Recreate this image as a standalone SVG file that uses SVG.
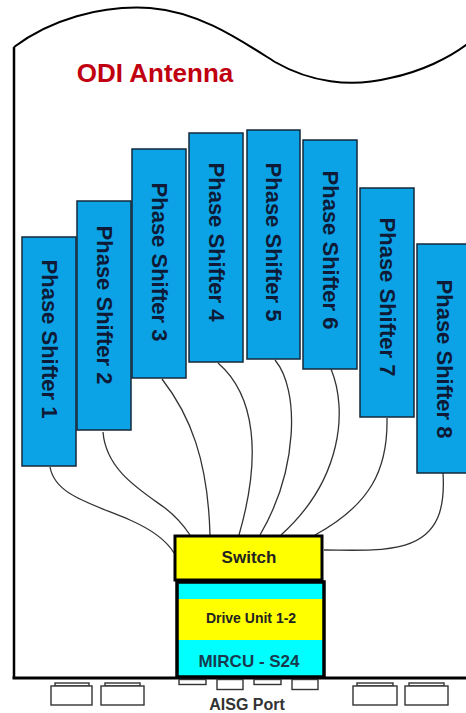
<svg xmlns="http://www.w3.org/2000/svg" width="466" height="713" viewBox="0 0 466 713">
<style>
.ps rect{fill:#0BA3E6;stroke:#15283a;stroke-width:1.5}
.ps text{font-family:"Liberation Sans",Arial,sans-serif;font-weight:bold;font-size:22px;fill:#0e1a36;text-anchor:middle}
.conn path{fill:none;stroke:#333;stroke-width:1.3}
.port{fill:#fff;stroke:#333;stroke-width:1.4}
.lbl{font-family:"Liberation Sans",Arial,sans-serif;font-weight:bold;text-anchor:middle}
</style>
<rect width="466" height="713" fill="#fff"/>
<g id="outline" fill="none" stroke="#000">
<path d="M14,47 C50,20 100,5 150,8 C200,12 240,40 275,62 C310,82 350,88 390,78 C420,72 450,58 470,42" stroke-width="2"/>
<path d="M14,47 L14,678" stroke-width="2.5"/>
<path d="M12.5,678 L466,678" stroke-width="3"/>
</g>
<text class="lbl" x="155" y="82" font-size="26" fill="#C00010">ODI Antenna</text>
<g class="conn">
<path d="M50,467 C55,495 90,503 130,520 C155,531 168,543 174,553"/>
<path d="M103,432 C106,470 140,490 165,508 C178,518 184,526 190,535"/>
<path d="M162,379 C190,415 208,460 210,535"/>
<path d="M218,363 C255,395 262,455 239,535"/>
<path d="M275,360 C300,390 298,470 260,535"/>
<path d="M331,369 C348,410 342,480 281,535"/>
<path d="M387,418 C388,470 370,505 315,535"/>
<path d="M443,473 C445,505 440,535 405,545 C380,552 350,550 324,550"/>
</g>
<g id="ps1" class="ps"><rect x="22" y="237" width="54" height="229"/><text transform="translate(41.5,339) rotate(90)">Phase Shifter 1</text></g>
<g id="ps2" class="ps"><rect x="77" y="201" width="54" height="229"/><text transform="translate(96.5,305) rotate(90)">Phase Shifter 2</text></g>
<g id="ps3" class="ps"><rect x="132" y="149" width="54" height="229"/><text transform="translate(151.5,262) rotate(90)">Phase Shifter 3</text></g>
<g id="ps4" class="ps"><rect x="189" y="133" width="54" height="229"/><text transform="translate(208.5,242) rotate(90)">Phase Shifter 4</text></g>
<g id="ps5" class="ps"><rect x="247" y="130" width="53" height="229"/><text transform="translate(265.5,242) rotate(90)">Phase Shifter 5</text></g>
<g id="ps6" class="ps"><rect x="303" y="140" width="54" height="229"/><text transform="translate(322.5,250) rotate(90)">Phase Shifter 6</text></g>
<g id="ps7" class="ps"><rect x="360" y="188" width="54" height="229"/><text transform="translate(379.5,297) rotate(90)">Phase Shifter 7</text></g>
<g id="ps8" class="ps"><rect x="417" y="244" width="54" height="229"/><text transform="translate(436.5,359) rotate(90)">Phase Shifter 8</text></g>
<g id="switch">
<rect x="175" y="536" width="147" height="44" fill="#FFFF00" stroke="#000" stroke-width="3"/>
<text class="lbl" x="249" y="563" font-size="17" fill="#222">Switch</text>
</g>
<g id="mircu">
<rect x="177" y="582" width="147" height="95" fill="#00FFFF"/>
<rect x="177" y="599" width="147" height="41" fill="#FFFF00"/>
<rect x="177" y="582" width="147" height="95" fill="none" stroke="#000" stroke-width="3.5"/>
<text class="lbl" x="251" y="623" font-size="14" fill="#222">Drive Unit 1-2</text>
<text class="lbl" x="249" y="667" font-size="17" fill="#173a4f">MIRCU - S24</text>
</g>
<g id="ports">
<rect class="port" x="55" y="683" width="34" height="3"/><rect class="port" x="51" y="686" width="41" height="19"/>
<rect class="port" x="105" y="683" width="35" height="3"/><rect class="port" x="101" y="686" width="43" height="19"/>
<rect class="port" x="357" y="683" width="36" height="3"/><rect class="port" x="353" y="686" width="44" height="19"/>
<rect class="port" x="409" y="683" width="35" height="3"/><rect class="port" x="405" y="686" width="43" height="19"/>
<rect class="port" x="179" y="679.5" width="27" height="5"/>
<rect class="port" x="217" y="679.5" width="26" height="10"/>
<rect class="port" x="254" y="679.5" width="27" height="5"/>
<rect class="port" x="292" y="679.5" width="26" height="10"/>
<text class="lbl" x="247" y="710" font-size="16" fill="#333">AISG Port</text>
</g>
</svg>
